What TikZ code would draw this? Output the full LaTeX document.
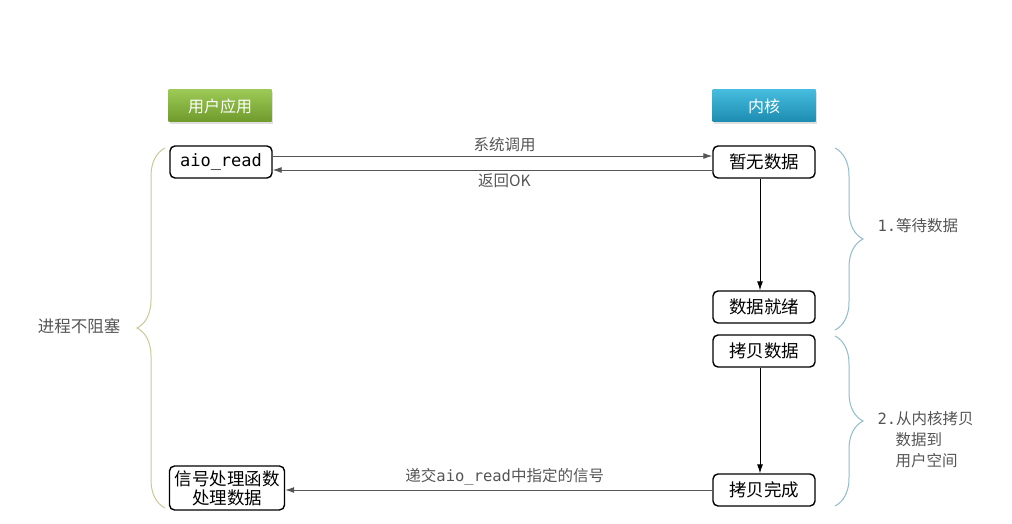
\documentclass[tikz,border=0pt]{standalone}
\usepackage{fontspec}
\setmainfont{Noto Sans CJK SC}
\setmonofont{DejaVu Sans Mono}
\usetikzlibrary{arrows.meta,positioning,decorations.pathreplacing,shadows}
\definecolor{hdrgreentop}{HTML}{9CC955}
\definecolor{hdrgreenbot}{HTML}{6F9A2C}
\definecolor{hdrbluetop}{HTML}{45BCDD}
\definecolor{hdrbluebot}{HTML}{1C8CB0}
\definecolor{labelgray}{HTML}{555555}
\definecolor{bracekhaki}{HTML}{C9C79A}
\definecolor{braceteal}{HTML}{8FBCCC}
\tikzset{
  header/.style  ={rectangle,minimum width=103pt,minimum height=32pt,
                   text=white,font=\fontsize{16}{18}\selectfont,
                   drop shadow={opacity=0.25,shadow xshift=1pt,shadow yshift=-2pt}},
  stepbox/.style ={rectangle,draw,rounded corners=5pt,line width=1.4pt,fill=white,
                   minimum width=102pt,minimum height=32pt,align=center,inner sep=2pt,
                   font=\fontsize{17.5}{19}\selectfont},
  lbl/.style     ={text=labelgray,font=\fontsize{15.5}{18}\selectfont},
  arr/.style     ={-{Latex[length=9pt,width=6pt]},line width=0.9pt},
  grayarr/.style ={arr,draw=labelgray},
  bracedeco/.style={decorate,decoration={brace,amplitude=28pt},line width=1pt}
}
\begin{document}
\begin{tikzpicture}[x=1pt,y=-1pt]
  \useasboundingbox (0,0) rectangle (1012,524);
  % Headers
  \node (app)    [header,top color=hdrgreentop,bottom color=hdrgreenbot] at (220,106) {用户应用};
  \node (kernel) [header,top color=hdrbluetop,bottom color=hdrbluebot]   at (764,106) {内核};

  % Steps
  \node (aioread) [stepbox,font=\fontsize{17}{19}\ttfamily] at (221,162) {aio\_read};
  \node (nodata)  [stepbox] at (764,162) {暂无数据};
  \node (ready)   [stepbox] at (764,307) {数据就绪};
  \node (copy)    [stepbox] at (764,351) {拷贝数据};
  \node (done)    [stepbox] at (764,490) {拷贝完成};
  \node (handler) [stepbox,minimum width=115pt,minimum height=44pt,
                   font=\fontsize{17.5}{19}\selectfont] at (227,488) {信号处理函数\\处理数据};

  % Arrows
  \draw [grayarr] ([yshift=6pt]aioread.east) -- node[lbl,above=0pt,xshift=12pt] {系统调用} ([yshift=6pt]nodata.west);
  \draw [grayarr] ([yshift=-8pt]nodata.west) -- node[lbl,below=0pt,xshift=12pt] {返回OK} ([yshift=-8pt]aioread.east);
  \draw [arr] ([xshift=-4pt]nodata.south) -- ([xshift=-4pt]ready.north);
  \draw [arr] ([xshift=-4pt]copy.south) -- ([xshift=-4pt]done.north);
  \draw [grayarr] (done.west) -- node[lbl,above=1pt,xshift=6pt] {递交\texttt{aio\_read}中指定的信号} (done.west -| handler.east);

  % Braces
  \coordinate (lbtop) at (165,148);
  \coordinate (lbbot) at (165,508);
  \coordinate (rbatop) at (835,148);
  \coordinate (rbabot) at (835,330);
  \coordinate (rbbtop) at (835,336);
  \coordinate (rbbbot) at (835,506);
  \draw [bracedeco,draw=bracekhaki] (lbbot) -- (lbtop);
  \draw [bracedeco,draw=braceteal] (rbatop) -- (rbabot);
  \draw [bracedeco,draw=braceteal] (rbbtop) -- (rbbbot);

  \node (noblock) [lbl,anchor=east,font=\fontsize{16.5}{18}\selectfont] at (124,326) {进程不阻塞};
  \node (wait)    [lbl,anchor=west] at (874,226) {\texttt{1.}等待数据};
  \node (copyusr) [lbl,anchor=north west,align=left,font=\fontsize{15.5}{21}\selectfont] at (874,408)
        {\texttt{2.}从内核拷贝\\\hspace*{18pt}数据到\\\hspace*{18pt}用户空间};
\end{tikzpicture}
\end{document}
